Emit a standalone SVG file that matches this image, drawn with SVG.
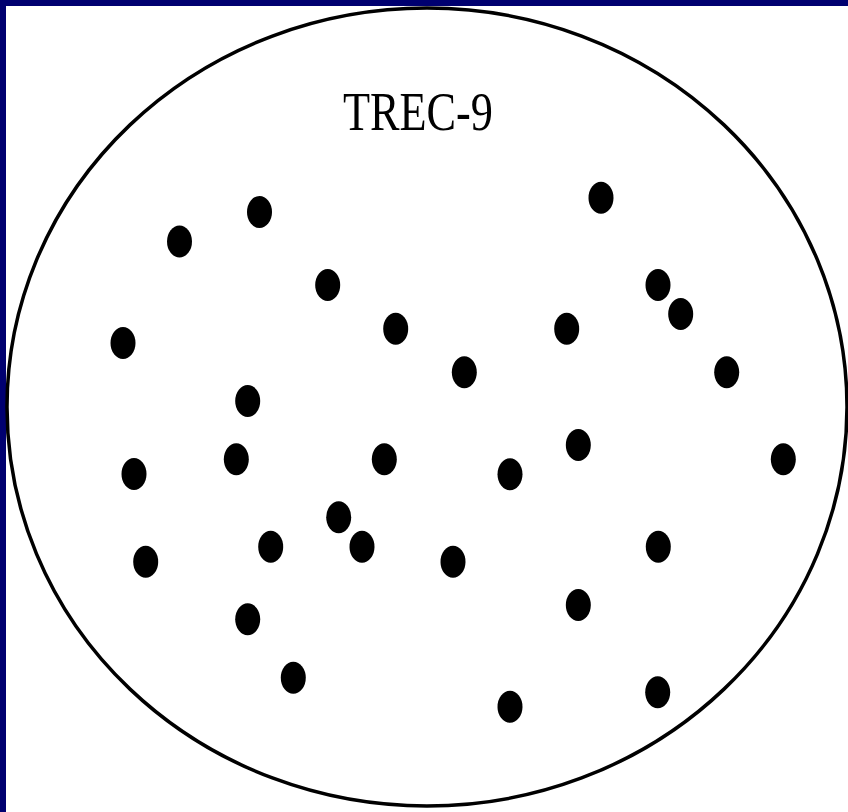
<svg xmlns="http://www.w3.org/2000/svg" width="848" height="812" viewBox="0 0 848 812">
<style>
.dot{fill:#000;}
.title{font-family:"Liberation Serif","Times New Roman",serif;font-size:55px;fill:#000;}
</style>
<rect x="0" y="0" width="848" height="812" fill="#000070"/>
<rect x="6" y="6" width="842" height="806" fill="#fff"/>
<g id="set">
<ellipse cx="427" cy="407" rx="420" ry="399" fill="#fff" stroke="#000" stroke-width="3.5"/>
<text class="title" x="343" y="129.5" textLength="150" lengthAdjust="spacingAndGlyphs">TREC-9</text>
</g>
<g id="connectors"></g>
<g id="points">
<ellipse class="dot" cx="259.5" cy="212" rx="12.5" ry="16"/>
<ellipse class="dot" cx="179.5" cy="241.5" rx="12.5" ry="16"/>
<ellipse class="dot" cx="123" cy="343" rx="12.5" ry="16"/>
<ellipse class="dot" cx="327.7" cy="285" rx="12.5" ry="16"/>
<ellipse class="dot" cx="395.7" cy="328.7" rx="12.5" ry="16"/>
<ellipse class="dot" cx="464.3" cy="372.3" rx="12.5" ry="16"/>
<ellipse class="dot" cx="601" cy="197.7" rx="12.5" ry="16"/>
<ellipse class="dot" cx="658" cy="285" rx="12.5" ry="16"/>
<ellipse class="dot" cx="680.7" cy="314" rx="12.5" ry="16"/>
<ellipse class="dot" cx="566.7" cy="328.7" rx="12.5" ry="16"/>
<ellipse class="dot" cx="726.7" cy="372.3" rx="12.5" ry="16"/>
<ellipse class="dot" cx="247.7" cy="401" rx="12.5" ry="16"/>
<ellipse class="dot" cx="236.3" cy="459.3" rx="12.5" ry="16"/>
<ellipse class="dot" cx="134" cy="474" rx="12.5" ry="16"/>
<ellipse class="dot" cx="384.3" cy="459.3" rx="12.5" ry="16"/>
<ellipse class="dot" cx="338.7" cy="517.3" rx="12.5" ry="16"/>
<ellipse class="dot" cx="270.7" cy="546.7" rx="12.5" ry="16"/>
<ellipse class="dot" cx="362" cy="546.7" rx="12.5" ry="16"/>
<ellipse class="dot" cx="145.7" cy="561.7" rx="12.5" ry="16"/>
<ellipse class="dot" cx="578.3" cy="445" rx="12.5" ry="16"/>
<ellipse class="dot" cx="510" cy="474.3" rx="12.5" ry="16"/>
<ellipse class="dot" cx="783.3" cy="459.3" rx="12.5" ry="16"/>
<ellipse class="dot" cx="453" cy="561.7" rx="12.5" ry="16"/>
<ellipse class="dot" cx="658.3" cy="546.7" rx="12.5" ry="16"/>
<ellipse class="dot" cx="247.7" cy="619.3" rx="12.5" ry="16"/>
<ellipse class="dot" cx="293.3" cy="677.7" rx="12.5" ry="16"/>
<ellipse class="dot" cx="578.3" cy="605" rx="12.5" ry="16"/>
<ellipse class="dot" cx="657.7" cy="692.3" rx="12.5" ry="16"/>
<ellipse class="dot" cx="510" cy="706.7" rx="12.5" ry="16"/>
</g>
</svg>
